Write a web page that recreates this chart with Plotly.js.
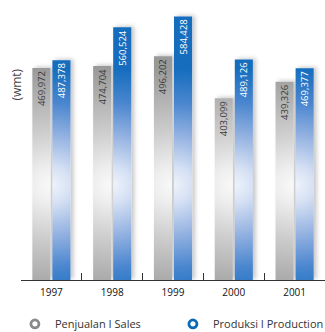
<!DOCTYPE html>
<html>
<head>
<meta charset="utf-8">
<script src="https://cdn.plot.ly/plotly-3.0.1.min.js"></script>
<style>
  html, body { margin: 0; padding: 0; background: #fff; }
  #chart { width: 325px; height: 332px; }
</style>
</head>
<body>
<div id="chart"></div>
<script>
// Sales and production volumes (wmt), 1997-2001
const years = ['1997', '1998', '1999', '2000', '2001'];
const sales = [469972, 474704, 496202, 403099, 439326];
const production = [487378, 560524, 584428, 489126, 469377];
const seriesNames = ['Penjualan I Sales', 'Produksi I Production'];

const FONT = '"Open Sans", "DejaVu Sans", sans-serif';

const traces = [
  {
    type: 'bar', x: years, y: sales, name: seriesNames[0], showlegend: false,
    marker: { color: '#b4b4b4' },
    texttemplate: '%{y:,}', textposition: 'inside', insidetextanchor: 'end',
    textangle: -90, constraintext: 'none',
    textfont: { family: FONT, size: 9.5, color: '#3a3a3a' },
    hoverinfo: 'skip'
  },
  {
    type: 'bar', x: years, y: production, name: seriesNames[1], showlegend: false,
    marker: { color: '#3f85cf' },
    texttemplate: '%{y:,}', textposition: 'inside', insidetextanchor: 'end',
    textangle: -90, constraintext: 'none',
    textfont: { family: FONT, size: 9.5, color: '#ffffff' },
    hoverinfo: 'skip'
  },
  // legend entries drawn as open rings
  {
    type: 'scatter', mode: 'markers', x: [null], y: [null], xaxis: 'x2',
    name: seriesNames[0],
    marker: { symbol: 'circle-open', size: 8, color: '#8a8a8a', line: { width: 2.8, color: '#8a8a8a' } }
  },
  {
    type: 'scatter', mode: 'markers', x: [null], y: [null], xaxis: 'x2',
    name: seriesNames[1],
    marker: { symbol: 'circle-open', size: 8, color: '#0a6ab8', line: { width: 2.8, color: '#0a6ab8' } }
  }
];

const layout = {
  width: 325, height: 332,
  margin: { l: 21, r: 0, t: 0, b: 52, autoexpand: false },
  paper_bgcolor: '#ffffff', plot_bgcolor: '#ffffff',
  font: { family: FONT, color: '#222' },
  barmode: 'group', bargap: 0.34, bargroupgap: 0.1,
  xaxis: {
    type: 'category', showline: true, linecolor: '#333', linewidth: 1,
    ticks: '', showgrid: false, fixedrange: true, ticklabelstandoff: 3,
    automargin: false,
    tickfont: { family: FONT, size: 10, color: '#111' }
  },
  xaxis2: {
    type: 'linear', overlaying: 'x', anchor: 'y', side: 'bottom',
    range: [-0.5, 4.5], tickvals: [0.5, 1.5, 2.5, 3.5],
    ticks: 'inside', ticklen: 7, tickwidth: 1, tickcolor: '#333',
    showticklabels: false, showgrid: false, zeroline: false, showline: false,
    fixedrange: true
  },
  yaxis: { range: [0, 620800], visible: false, fixedrange: true },
  showlegend: true,
  legend: {
    orientation: 'h', x: -0.02, xanchor: 'left', y: -0.157, yanchor: 'middle',
    entrywidth: 113, entrywidthmode: 'pixels',
    font: { family: FONT, size: 11, color: '#333' },
    itemclick: false, itemdoubleclick: false
  },
  annotations: [{
    text: '(wmt)', xref: 'paper', yref: 'paper', x: -0.013, y: 0.698,
    xanchor: 'center', yanchor: 'middle', textangle: -90, showarrow: false,
    font: { family: FONT, size: 12, color: '#444' }
  }]
};

const gd = document.getElementById('chart');
Plotly.newPlot(gd, traces, layout, { displayModeBar: false, staticPlot: true }).then(() => {
  // Shaded fills: a soft radial highlight where each bar pair meets, plus a light drop shadow.
  const svgNS = 'http://www.w3.org/2000/svg';
  const svg = gd.querySelector('.main-svg');
  let defs = svg.querySelector('defs');
  if (!defs) { defs = document.createElementNS(svgNS, 'defs'); svg.prepend(defs); }

  const shadow = document.createElementNS(svgNS, 'filter');
  shadow.setAttribute('id', 'barShadow');
  shadow.setAttribute('x', '-50%'); shadow.setAttribute('y', '-10%');
  shadow.setAttribute('width', '200%'); shadow.setAttribute('height', '120%');
  shadow.innerHTML = '<feDropShadow dx="3" dy="-1" stdDeviation="2" flood-color="#000" flood-opacity="0.22"/>';
  defs.appendChild(shadow);

  const stops = [
    [[0, '#f9f9f9'], [0.15, '#eeeeee'], [0.45, '#cdcdcd'], [0.75, '#b0b0b0'], [1, '#999999']],
    [[0, '#eef3fb'], [0.15, '#d6e1f4'], [0.42, '#94b2e1'], [0.7, '#4a86cf'], [1, '#136cbd']]
  ];
  const plotTop = gd._fullLayout._size.t;
  const lightY = 185 - plotTop;

  gd.querySelectorAll('.barlayer .trace').forEach((tr, ti) => {
    tr.querySelectorAll('.point path').forEach((p, pi) => {
      const bb = p.getBBox();
      const g = document.createElementNS(svgNS, 'radialGradient');
      const id = 'shade' + ti + '_' + pi;
      g.setAttribute('id', id);
      g.setAttribute('gradientUnits', 'userSpaceOnUse');
      g.setAttribute('cx', ti === 0 ? bb.x + bb.width : bb.x);
      g.setAttribute('cy', lightY);
      g.setAttribute('r', 118);
      stops[ti].forEach(([o, c]) => {
        const s = document.createElementNS(svgNS, 'stop');
        s.setAttribute('offset', o);
        s.setAttribute('stop-color', c);
        g.appendChild(s);
      });
      defs.appendChild(g);
      p.style.fill = 'url(#' + id + ')';
      p.setAttribute('filter', 'url(#barShadow)');
    });
  });
});
</script>
</body>
</html>
